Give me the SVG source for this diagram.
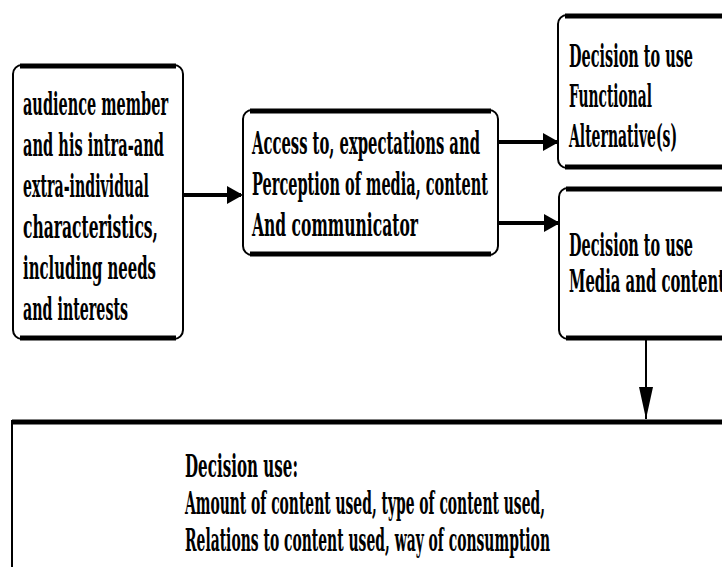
<svg xmlns="http://www.w3.org/2000/svg" width="722" height="567" viewBox="0 0 722 567">
<defs>
<style>
.box{fill:#fff;stroke:#000;stroke-width:2}
.edge{fill:none;stroke:#000;stroke-width:5;stroke-linecap:butt}
.t{font-family:"DejaVu Serif","Liberation Serif",serif;font-weight:bold;font-size:31px;fill:#000}
.c{fill:none;stroke:#000;stroke-width:4}
.cv{fill:none;stroke:#000;stroke-width:2}
</style>
<marker id="ah" markerUnits="userSpaceOnUse" markerWidth="16" markerHeight="18" refX="14" refY="9" orient="auto"><path d="M0,0 L16,9 L0,18 Z" fill="#000"/></marker>
<marker id="av" markerUnits="userSpaceOnUse" markerWidth="32" markerHeight="14" refX="32" refY="7" orient="auto"><path d="M0,0 L32,7 L0,14 Z" fill="#000"/></marker>
</defs>
<rect width="722" height="567" fill="#fff"/>
<g id="connectors">
<line class="c" x1="183" y1="195" x2="241" y2="195" marker-end="url(#ah)"/>
<line class="c" x1="498" y1="142" x2="557" y2="142" marker-end="url(#ah)"/>
<line class="c" x1="498" y1="223" x2="558" y2="223" marker-end="url(#ah)"/>
<line class="cv" x1="646" y1="339" x2="646" y2="419" marker-end="url(#av)"/>
</g>
<g id="n1">
<rect class="box" x="13" y="65" width="170" height="274" rx="9"/>
<path class="edge" d="M20,66 H176 M20,338 H176"/>
<text class="t"><tspan x="23" y="115" textLength="145" lengthAdjust="spacingAndGlyphs">audience member</tspan><tspan x="23" y="156" textLength="141" lengthAdjust="spacingAndGlyphs">and his intra-and</tspan><tspan x="23" y="197" textLength="126" lengthAdjust="spacingAndGlyphs">extra-individual</tspan><tspan x="23" y="238" textLength="135" lengthAdjust="spacingAndGlyphs">characteristics,</tspan><tspan x="23" y="279" textLength="133" lengthAdjust="spacingAndGlyphs">including needs</tspan><tspan x="23" y="320" textLength="105" lengthAdjust="spacingAndGlyphs">and interests</tspan></text>
</g>
<g id="n2">
<rect class="box" x="243" y="110" width="255" height="145" rx="9"/>
<path class="edge" d="M250,111 H491 M250,254 H491"/>
<text class="t"><tspan x="252" y="154" textLength="228" lengthAdjust="spacingAndGlyphs">Access to, expectations and</tspan><tspan x="252" y="195" textLength="236" lengthAdjust="spacingAndGlyphs">Perception of media, content</tspan><tspan x="252" y="236" textLength="166" lengthAdjust="spacingAndGlyphs">And communicator</tspan></text>
</g>
<g id="n3">
<rect class="box" x="558" y="15" width="200" height="153" rx="9"/>
<path class="edge" d="M565,16 H740 M565,167 H740"/>
<text class="t"><tspan x="569" y="67" textLength="124" lengthAdjust="spacingAndGlyphs">Decision to use</tspan><tspan x="569" y="107" textLength="83" lengthAdjust="spacingAndGlyphs">Functional</tspan><tspan x="569" y="147" textLength="108" lengthAdjust="spacingAndGlyphs">Alternative(s)</tspan></text>
</g>
<g id="n4">
<rect class="box" x="559" y="188" width="200" height="151" rx="9"/>
<path class="edge" d="M566,189 H740 M566,338 H740"/>
<text class="t"><tspan x="569" y="256" textLength="124" lengthAdjust="spacingAndGlyphs">Decision to use</tspan><tspan x="569" y="292" textLength="156" lengthAdjust="spacingAndGlyphs">Media and content</tspan></text>
</g>
<g id="n5">
<rect class="box" x="12" y="421" width="740" height="180"/>
<path class="edge" d="M12,422 H722"/>
<text class="t"><tspan x="185" y="477" textLength="113" lengthAdjust="spacingAndGlyphs">Decision use:</tspan><tspan x="185" y="514" textLength="360" lengthAdjust="spacingAndGlyphs">Amount of content used, type of content used,</tspan><tspan x="185" y="551" textLength="365" lengthAdjust="spacingAndGlyphs">Relations to content used, way of consumption</tspan></text>
</g>
</svg>
